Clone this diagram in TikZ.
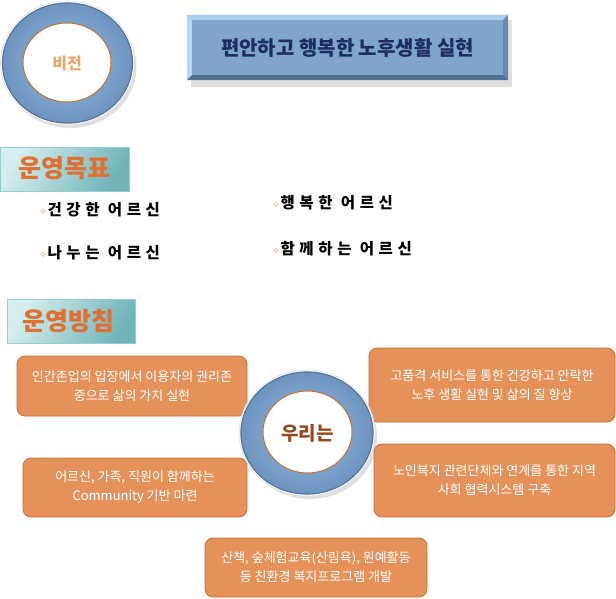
\documentclass[tikz,border=0pt]{standalone}
\usepackage{fontspec}
\setmainfont{Noto Sans CJK KR}
\newfontfamily\goalfont[LetterSpace=30]{Noto Sans CJK KR}
\newfontfamily\symfont{DejaVu Sans}
\usetikzlibrary{calc,shapes.geometric}
\definecolor{ofill}{RGB}{228,146,90}
\definecolor{odraw}{RGB}{196,112,58}
\definecolor{ringL}{RGB}{150,188,222}
\definecolor{ringD}{RGB}{108,148,190}
\definecolor{ringE}{RGB}{84,118,156}
\definecolor{ringin}{RGB}{200,112,52}
\definecolor{tealL}{RGB}{214,238,238}
\definecolor{tealD}{RGB}{112,180,184}
\definecolor{tealB}{RGB}{150,205,208}
\definecolor{tbase}{RGB}{127,165,203}
\definecolor{tlight}{RGB}{170,205,235}
\definecolor{tlight2}{RGB}{185,215,242}
\definecolor{tdark}{RGB}{82,112,148}
\definecolor{tdark2}{RGB}{102,136,172}
\definecolor{ttext}{RGB}{30,45,95}
\definecolor{headtxt}{RGB}{225,112,48}
\definecolor{vistxt}{RGB}{240,165,105}
\definecolor{wetxt}{RGB}{150,72,30}
\definecolor{bul}{RGB}{235,140,90}
\tikzset{
  obox/.style={draw=odraw, line width=0.8pt, fill=ofill, rounded corners=8pt,
    text=white, align=center, font=\fontsize{13}{19}\selectfont, inner sep=0pt},
  headbox/.style={draw=tealB, line width=0.8pt, left color=tealL, right color=tealD,
    shading angle=60, inner sep=0pt},
  headtext/.style={text=headtxt, font=\fontsize{25}{28}\selectfont\bfseries, inner sep=0pt},
  goal/.style={anchor=west, inner sep=0pt, font=\fontsize{15.5}{17}\selectfont\goalfont\bfseries, text=black},
  ringshadow/.style={fill=black!35, opacity=0.35},
  ringglow/.style={fill=white, draw=black!12, line width=0.6pt},
  ringouter/.style={draw=ringE, line width=1.2pt, inner color=ringL, outer color=ringD},
  ringinner/.style={draw=ringin, line width=1pt, fill=white}
}
\newcommand{\bulmark}{{\symfont\fontsize{10}{10}\selectfont\textcolor{bul}{✧}}}
\begin{document}
\begin{tikzpicture}[x=1pt,y=-1pt]
\useasboundingbox (0,0) rectangle (616,598);
\fill[white] (0,0) rectangle (616,598);

% ---- vision ring ----
\fill[ringshadow] (70,67) ellipse [x radius=66.5pt, y radius=61pt];
\path[ringglow] (67.5,63) ellipse [x radius=67pt, y radius=62pt];
\path[ringouter] (67.5,63) ellipse [x radius=65pt, y radius=60pt];
\node[ringinner, ellipse, minimum width=88pt, minimum height=79pt, inner sep=0pt] (vis) at (67,62.5) {};
\node[text=vistxt, font=\fontsize{16}{18}\selectfont\bfseries] (vistext) at (67,64) {비전};

% ---- title box ----
\fill[black!30, opacity=0.4] (191,20) rectangle (512,87);
\node[fill=tbase, minimum width=321pt, minimum height=65pt, inner sep=0pt,
      text=ttext, font=\fontsize{20}{22}\selectfont\bfseries] (title) at (347.5,47.5) {편안하고 행복한 노후생활 실현};
\fill[tlight] (title.north west) -- (title.north east) -- ($(title.north east)+(-5pt,-5pt)$) -- ($(title.north west)+(5pt,-5pt)$) -- cycle;
\fill[tlight2] (title.north west) -- (title.south west) -- ($(title.south west)+(5pt,5pt)$) -- ($(title.north west)+(5pt,-5pt)$) -- cycle;
\fill[tdark] (title.south west) -- (title.south east) -- ($(title.south east)+(-5pt,5pt)$) -- ($(title.south west)+(5pt,5pt)$) -- cycle;
\fill[tdark2] (title.north east) -- (title.south east) -- ($(title.south east)+(-5pt,5pt)$) -- ($(title.north east)+(-5pt,-5pt)$) -- cycle;

% ---- 운영목표 ----
\path[headbox] (0.5,147) rectangle (129,191);
\node[headtext] (goalhead) at (64,168) {운영목표};
\node[goal] (g1) at (39,210) {\bulmark{}건강한 어르신};
\node[goal] (g2) at (39,253) {\bulmark{}나누는 어르신};
\node[goal] (g3) at (272,203) {\bulmark{}행복한 어르신};
\node[goal] (g4) at (272,249) {\bulmark{}함께하는 어르신};

% ---- 운영방침 ----
\path[headbox] (7,299) rectangle (135,343);
\node[headtext] (polhead) at (68.5,321) {운영방침};

% ---- policy boxes ----
\node[obox, minimum width=230pt, minimum height=60pt] (p1) at (132,386) {인간존업의 입장에서 이용자의 권리존\\중으로 삶의 가치 실현};
\node[obox, minimum width=224pt, minimum height=59pt] (p2) at (135,487.5) {어르신, 가족, 직원이 함께하는\\Community 기반 마련};
\node[obox, minimum width=246pt, minimum height=74pt] (p3) at (492,385) {고품격 서비스를 통한 건강하고 안락한\\노후 생활 실현 및 삶의 질 향상};
\node[obox, minimum width=241pt, minimum height=73pt] (p4) at (494.5,480.5) {노인복지 관련단체와 연계를 통한 지역\\사회 협력시스템 구축};
\node[obox, minimum width=222pt, minimum height=59pt] (p5) at (316,567.5) {산책, 숲체험교육(산림욕), 원예활동\\등 친환경 복지프로그램 개발};

% ---- 우리는 ring ----
\fill[ringshadow] (310,437) ellipse [x radius=67pt, y radius=62pt];
\path[ringglow] (307,433) ellipse [x radius=68pt, y radius=63pt];
\path[ringouter] (307,433) ellipse [x radius=66pt, y radius=61pt];
\node[ringinner, ellipse, minimum width=89pt, minimum height=82pt, inner sep=0pt] (we) at (307.5,432) {};
\node[text=wetxt, font=\fontsize{19}{21}\selectfont\bfseries] (wetext) at (307.5,433) {우리는};
\end{tikzpicture}
\end{document}
